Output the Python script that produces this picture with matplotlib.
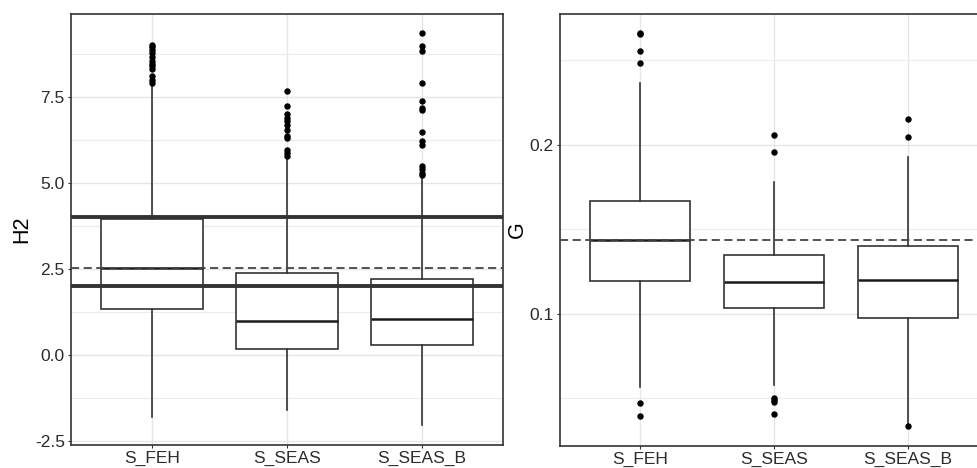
import matplotlib
matplotlib.use("Agg")
import matplotlib.pyplot as plt
from matplotlib.ticker import MultipleLocator, FormatStrFormatter

plt.rcParams["font.family"] = ["Liberation Sans", "DejaVu Sans"]

categories = ["S_FEH", "S_SEAS", "S_SEAS_B"]

# H2 summary per method
h2_q1 = [1.32, 0.18, 0.29]
h2_med = [2.53, 0.99, 1.05]
h2_q3 = [3.95, 2.39, 2.21]
h2_whislo = [-1.82, -1.60, -2.03]
h2_whishi = [7.86, 5.74, 5.10]
h2_fliers = [
    [9.02, 8.95, 8.85, 8.78, 8.66, 8.53, 8.47, 8.39, 8.31, 8.10, 8.00, 7.91],
    [7.66, 7.23, 6.99, 6.89, 6.79, 6.67, 6.55, 6.36, 6.31, 5.97, 5.88, 5.78],
    [9.36, 8.99, 8.82, 7.89, 7.37, 7.18, 7.13, 6.49, 6.21, 6.09, 5.49, 5.39, 5.30, 5.23],
]
h2_ref_median = 2.53
h2_bounds = [2.0, 4.0]

# G summary per method
g_q1 = [0.1195, 0.1031, 0.0976]
g_med = [0.1438, 0.1185, 0.1200]
g_q3 = [0.1669, 0.1349, 0.1398]
g_whislo = [0.0566, 0.0575, 0.0345]
g_whishi = [0.2369, 0.1779, 0.1927]
g_fliers = [
    [0.2661, 0.2655, 0.2558, 0.2483, 0.0472, 0.0393],
    [0.2057, 0.1960, 0.0499, 0.0485, 0.0473, 0.0406],
    [0.2152, 0.2049, 0.0332],
]
g_ref_median = 0.1438

W, H = 978, 468
fig = plt.figure(figsize=(W / 100, H / 100), dpi=100)
ax1 = fig.add_axes([71 / W, 1 - 445 / H, (503 - 71) / W, (445 - 14) / H])
ax2 = fig.add_axes([560 / W, 1 - 446 / H, (988 - 560) / W, (446 - 14) / H])


def stats(q1, med, q3, lo, hi, fl):
    return [dict(q1=a, med=b, q3=c, whislo=d, whishi=e, fliers=f)
            for a, b, c, d, e, f in zip(q1, med, q3, lo, hi, fl)]


def draw(ax, st, ylim, major, minor, ylabel, pad):
    ax.bxp(st, positions=[1, 2, 3], widths=0.75, showcaps=False, patch_artist=True,
           boxprops=dict(facecolor="white", edgecolor="#333333", linewidth=1.2),
           medianprops=dict(color="#1a1a1a", linewidth=1.8),
           whiskerprops=dict(color="#333333", linewidth=1.2),
           flierprops=dict(marker="o", markersize=3.6, markerfacecolor="black",
                           markeredgecolor="black"),
           zorder=3)
    ax.set_xlim(0.4, 3.6)
    ax.set_ylim(*ylim)
    ax.set_xticks([1, 2, 3])
    ax.set_xticklabels(categories)
    ax.yaxis.set_major_locator(MultipleLocator(major))
    ax.yaxis.set_minor_locator(MultipleLocator(minor))
    ax.grid(which="major", color="#e6e6e6", linewidth=1.0, zorder=0)
    ax.grid(which="minor", axis="y", color="#ececec", linewidth=0.8, zorder=0)
    ax.tick_params(which="minor", length=0)
    ax.tick_params(which="major", length=2.5, color="#333333", labelsize=12.5,
                   labelcolor="#2b2b2b", pad=2)
    ax.tick_params(axis="x", pad=1.5)
    for s in ax.spines.values():
        s.set_color("#333333")
        s.set_linewidth(1.2)
    ax.set_ylabel(ylabel, fontsize=15.5, color="black", labelpad=pad)
    ax.set_axisbelow(True)


draw(ax1, stats(h2_q1, h2_med, h2_q3, h2_whislo, h2_whishi, h2_fliers),
     (-2.62, 9.91), 2.5, 1.25, "H2", 2)
ax1.yaxis.set_major_formatter(FormatStrFormatter("%.1f"))
ax1.axhline(h2_ref_median, color="#444444", linestyle=(0, (4.5, 2.5)), linewidth=1.3, zorder=4)
for b in h2_bounds:
    ax1.axhline(b, color="#333333", linewidth=2.8, zorder=4)

draw(ax2, stats(g_q1, g_med, g_q3, g_whislo, g_whishi, g_fliers),
     (0.0215, 0.2775), 0.1, 0.05, "G", 1.5)
ax2.axhline(g_ref_median, color="#444444", linestyle=(0, (4.5, 2.5)), linewidth=1.3, zorder=4)

fig.savefig("out.png", dpi=100)
